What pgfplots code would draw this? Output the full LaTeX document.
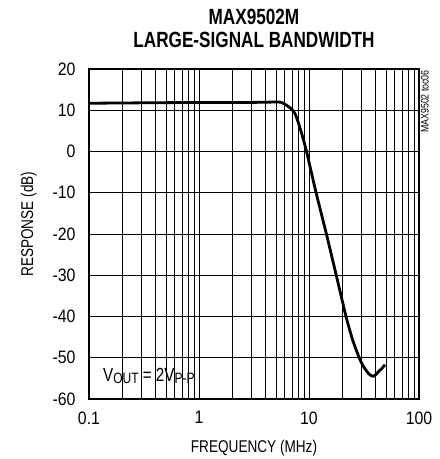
\documentclass[border=0pt]{standalone}
\usepackage{pgfplots}
\pgfplotsset{compat=1.18}
\usepackage{fontspec}
\setmainfont{Liberation Sans}[FakeStretch=0.8]
\newfontfamily\titlefont{Liberation Sans}[FakeStretch=0.78]
\newfontfamily\tickfont{Liberation Sans}[FakeStretch=0.88]

% response curve, frequency in MHz, response in dB
\pgfplotstableread{
f     db
0.1   11.7
0.3   11.8
1     11.9
2     11.9
3     11.9
4     11.95
5.08  12.0
5.6   11.9
6.27  11.2
7.0   10.2
7.46  9.2
8.0   7.0
8.7   3.8
9.5   0
11.6  -10
14.4  -20
17.7  -30
21.7  -40
25    -45.8
28.6  -50
30.5  -51.6
32.3  -52.7
34.5  -53.7
36.5  -54.3
38.5  -54.5
40.5  -54.1
43    -53.3
46    -52.6
49    -51.7
}\response

\pgfdeclarelayer{box}

\begin{document}
\begin{tikzpicture}
\pgfplotsset{layers/boxed/.define layer set={axis background,axis grid,box,axis ticks,axis lines,axis tick labels,main,axis descriptions,axis foreground}{}}
\begin{axis}[
    set layers=boxed,
    at={(0pt,0pt)}, anchor=south west,
    scale only axis, width=330pt, height=330pt,
    xmode=log, xmin=0.1, xmax=100,
    ymin=-60, ymax=20,
    xtick={0.1,1,10,100}, xticklabels={0.1,1,10,100},
    ytick={-60,-50,...,20},
    minor y tick num=0,
    grid=both,
    major grid style={black, line width=0.8pt},
    minor grid style={black, line width=0.6pt},
    tick align=inside,
    major tick length=5pt, minor tick length=5pt,
    tick style={black, line width=0.6pt},
    axis line style={line width=2.4pt},
    /pgf/number format/assume math mode=true,
    tick label style={font=\tickfont\fontsize{18}{20}\selectfont},
    yticklabel style={xshift=-10pt},
    xticklabel style={yshift=-9pt},
    xlabel={FREQUENCY (MHz)},
    ylabel={RESPONSE (dB)},
    label style={font=\fontsize{17}{19}\selectfont},
    xlabel style={at={(axis description cs:0.5,0)}, anchor=base, yshift=-53pt},
    ylabel style={at={(axis description cs:-0.1697,0.53)}, anchor=base},
    clip=false,
]
\begin{pgfonlayer}{box}
\filldraw[fill=white, draw=black, line width=0.8pt] (axis cs:0.1,-60) rectangle (axis cs:1,-50);
\end{pgfonlayer}
\addplot[black, line width=2.8pt, line join=round, smooth, tension=0.3] table[x=f, y=db] {\response};
\node[font=\fontsize{19}{21}\selectfont] at (axis cs:0.35,-54.4)
  {V\raisebox{-2pt}{\fontsize{15}{17}\selectfont OUT}\ =\ 2V\raisebox{-2pt}{\fontsize{15}{17}\selectfont P-P}};
\end{axis}
\path (-89pt,-60pt) rectangle (351pt,399pt);
\node[font=\titlefont\fontsize{22}{25}\selectfont\bfseries, anchor=base] at (165pt,374pt) {MAX9502M};
\node[font=\titlefont\fontsize{22}{25}\selectfont\bfseries, anchor=base] at (165pt,351pt) {LARGE-SIGNAL BANDWIDTH};
\node[font=\fontsize{11}{13}\selectfont, rotate=90, anchor=south east, inner sep=0pt] at (340pt,329pt) {MAX9502 toc06};
\end{tikzpicture}
\end{document}
